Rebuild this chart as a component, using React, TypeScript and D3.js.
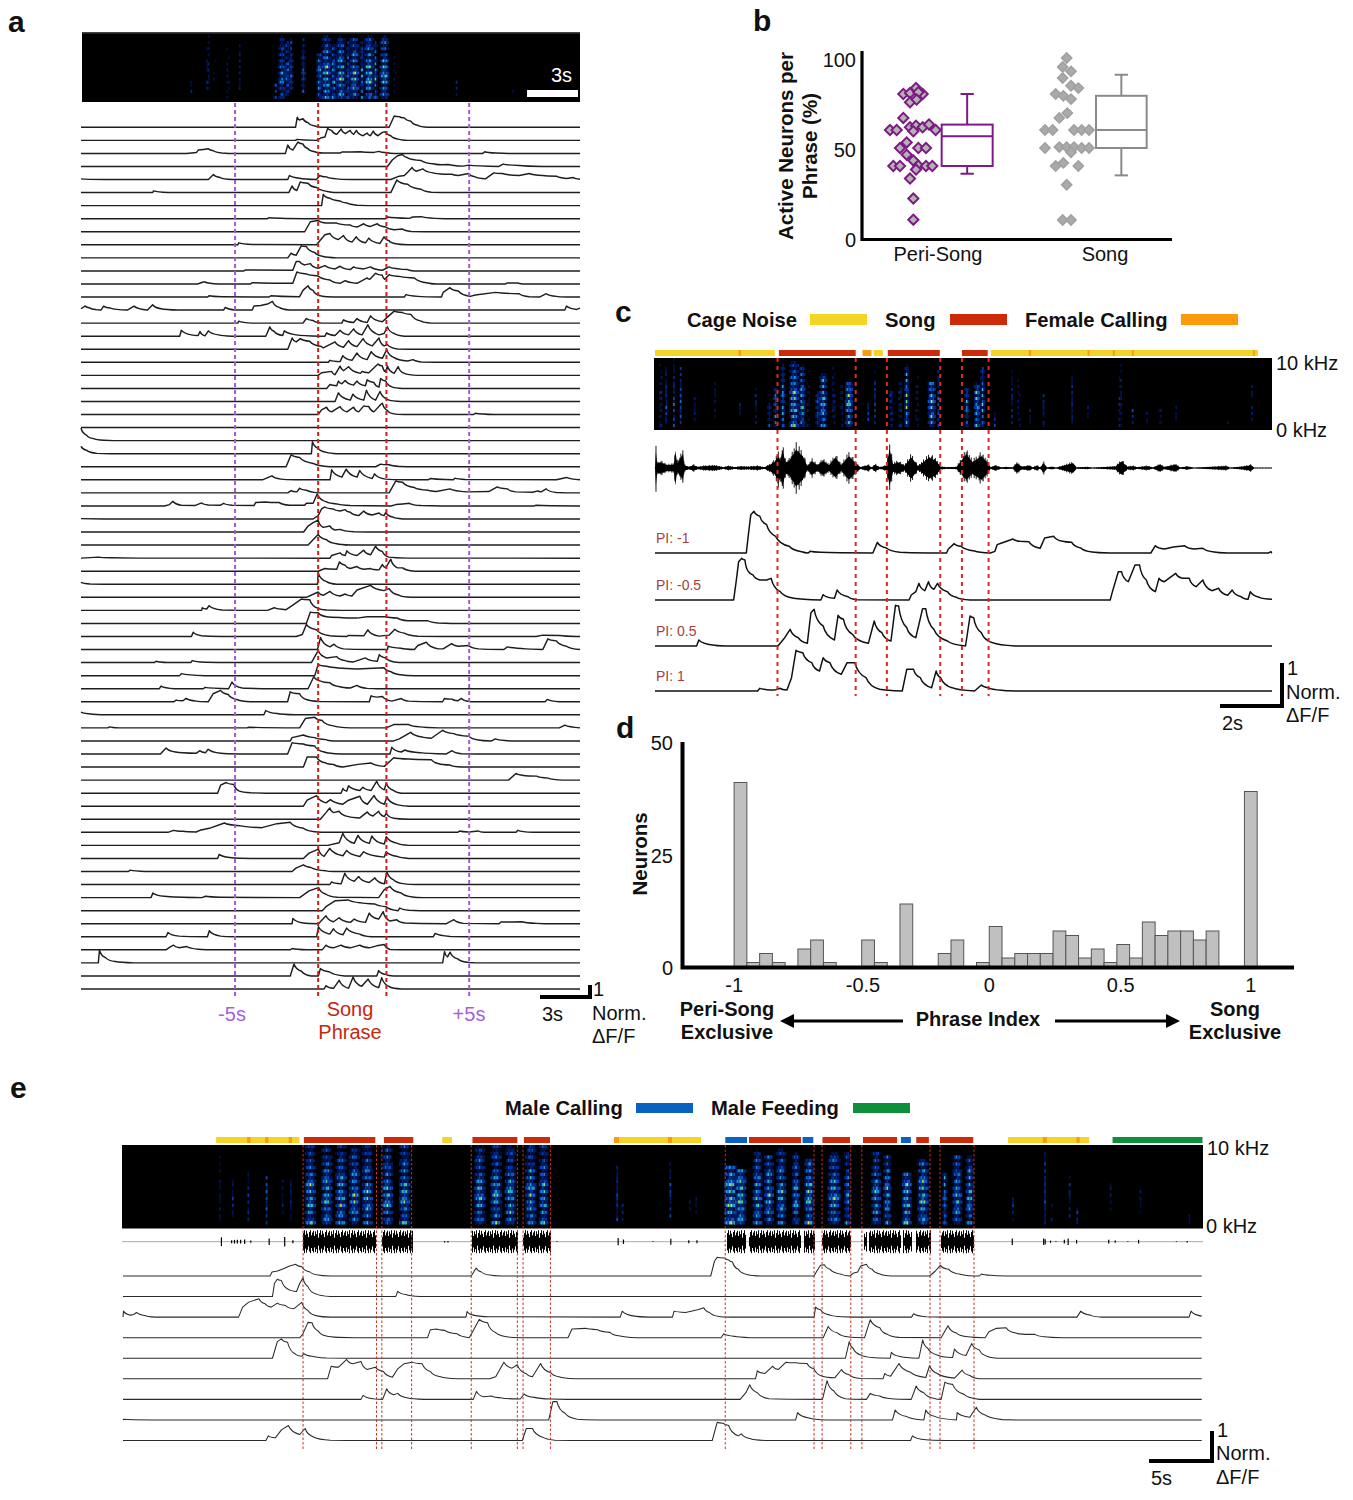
import React from "react";
import * as d3 from "d3";

// ---------- panel a: traces, flat [time, amplitude, time, amplitude ...] ----------
const tracesUpper: number[][] = [
[668,0,673,30,680,22,690,26,705,14,725,4,745,0,945,0,960,34,975,32,990,28,1010,18,1030,6,1060,0],
[668,0,672,3,730,0,745,8,755,10,763,36,775,30,790,18,803,34,815,20,830,30,840,18,848,30,868,14,880,22,890,14,898,28,912,14,925,24,935,26,950,14,975,3,1000,0],
[345,0,375,3,380,10,395,12,410,14,425,8,450,1,470,0,638,0,645,25,660,10,675,34,690,28,705,14,725,5,750,1,800,1,805,4,830,4,860,5,900,3,915,6,940,2,960,0,1222,0,1228,5,1260,1,1300,0],
[940,0,955,20,970,32,985,36,1000,26,1040,18,1075,8,1100,5,1120,6,1165,1,1180,4,1270,0,1282,7,1330,3,1400,0],
[33,2,100,0,410,0,425,15,445,6,480,0,645,0,650,12,680,4,730,0,740,12,760,8,790,2,830,0,950,0,975,10,990,12,1000,22,1013,36,1025,25,1045,32,1075,20,1110,16,1130,16,1150,12,1180,18,1200,8,1230,2,1255,20,1280,18,1330,12,1360,18,1400,12,1440,10,1470,3,1490,6,1510,1],
[245,0,248,5,290,0,648,0,658,20,672,6,682,32,705,28,730,15,770,2,800,0,950,0,968,38,1000,25,1040,10,1070,1,1100,0],
[745,0,750,34,770,22,800,14,820,8,850,1,880,0],
[585,0,590,3,720,0,935,0,940,5,1005,1,1015,5,1040,6,1080,1,1110,0],
[695,0,712,30,735,34,760,26,790,26,830,20,850,14,870,24,890,16,910,24,935,14,960,6,985,8,1010,1,1050,0],
[497,0,500,6,540,1,730,0,745,18,755,30,770,34,795,16,810,28,835,8,848,24,875,6,885,20,918,4,930,24,945,12,965,3,1000,0],
[645,0,655,14,670,8,685,36,700,34,725,16,750,4,790,0],
[515,0,520,3,660,2,670,28,680,28,695,18,712,22,735,8,755,16,785,6,800,14,830,4,840,12,870,6,890,12,925,2,945,12,975,6,1000,4,1020,0],
[378,0,395,6,400,6,440,0,535,0,540,4,660,2,672,36,700,30,735,24,770,12,800,2,815,10,850,2,880,18,888,14,905,32,925,26,932,14,945,28,980,22,1020,18,1060,3,1085,0,1290,0,1295,3,1325,3,1340,0],
[408,0,412,4,450,1,590,0,595,4,680,1,690,20,705,34,720,20,740,4,760,1,780,0,990,0,995,7,1030,2,1100,0,1105,14,1125,28,1150,18,1185,2,1200,6,1260,14,1330,10,1360,1,1390,0,1410,10,1440,2,1470,0],
[33,4,45,12,60,6,75,2,92,0,100,12,120,6,170,0,190,12,230,0,245,16,270,4,320,0,455,0,460,8,490,0,540,0,545,12,565,14,585,18,600,26,620,8,650,0,1465,0,1470,12,1500,2,1510,6],
[497,0,500,6,540,0,690,0,700,14,720,8,745,0,805,0,810,10,840,2,850,14,880,2,890,22,925,4,940,18,960,36,985,32,1010,26,1040,6,1070,0],
[325,0,330,18,360,4,380,2,385,14,400,1,410,16,440,4,480,0,580,0,592,28,605,14,630,2,635,16,670,4,740,0,755,0,760,10,785,2,800,18,825,4,840,22,865,4,882,34,915,4,930,8,940,28,960,8,990,0],
[645,0,658,34,670,22,682,32,710,24,745,8,750,4,785,22,810,6,825,26,850,8,868,32,895,10,915,34,930,10,940,14,970,1,1000,0],
[765,0,770,6,800,2,808,20,835,6,850,28,880,8,892,32,925,12,938,38,960,14,1000,4,1016,8,1040,1,1080,0],
[735,0,745,8,775,12,785,2,800,28,810,14,825,26,860,6,865,12,885,8,912,34,925,28,935,10,940,28,960,6,972,26,990,6,1030,0],
[760,0,770,12,790,8,795,22,805,14,815,24,840,10,850,22,875,8,880,26,900,18,915,4,920,30,935,22,955,4,985,0],
[785,0,795,26,830,4,838,22,870,4,878,34,905,4,918,30,945,4,980,0],
[735,0,745,14,760,22,775,8,790,18,800,24,820,8,840,22,855,8,870,26,885,24,900,8,920,30,925,34,940,12,960,2,990,0,1195,0,1200,4,1260,0],
[33,0,1510,0],
[33,38,50,16,70,6,100,1,130,0],
[33,22,50,10,80,1,120,0,715,0,718,36,735,16,760,4,790,0],
[640,0,655,36,680,28,720,10,770,0,905,0,920,8,945,6,975,1,1000,0],
[570,0,598,12,625,2,670,0,770,0,775,30,805,8,818,32,850,8,858,28,895,4,902,18,935,2,1000,0,1060,0,1068,4,1110,1,1135,0,1140,5,1170,1,1440,0,1470,7,1510,0],
[645,0,655,7,672,3,680,14,700,8,735,0,945,0,965,36,985,32,1020,16,1060,8,1085,4,1125,12,1175,3,1240,4,1265,18,1295,12,1320,3,1370,2,1385,6,1395,3,1410,12,1440,1,1470,0],
[280,0,295,4,305,14,330,2,370,1,390,9,410,3,445,2,455,8,480,2,545,1,550,10,580,12,620,10,650,2,695,2,700,8,720,8,732,36,760,12,790,6,830,1,950,0,965,4,985,6,1005,8,1040,1,1100,0,1375,0,1380,2,1500,0],
[33,1,100,0,720,0,735,10,745,30,755,36,780,30,800,24,815,28,830,20,855,10,870,24,895,12,915,18,930,10,935,20,955,6,985,0],
[692,0,705,18,720,28,735,36,750,14,770,18,785,6,800,8,840,1,880,0],
[705,0,720,16,735,32,760,16,790,4,830,0],
[33,0,85,3,120,1,200,0,770,0,775,8,800,16,815,8,820,22,850,8,870,24,890,10,905,36,925,20,945,3,1000,0],
[735,0,755,8,790,6,798,28,815,18,830,8,850,14,870,6,890,8,915,4,925,20,935,10,950,36,970,10,985,10,1020,0],
[33,6,60,1,100,0,733,0,735,34,760,8,790,0],
[700,0,735,16,750,6,770,18,800,4,815,10,835,4,850,22,890,36,930,20,945,26,975,6,1010,0],
[390,0,392,8,405,4,412,14,450,1,500,0,585,0,605,8,640,2,660,16,685,34,710,32,735,6,760,1,800,0],
[700,0,712,34,735,32,760,20,800,18,850,16,880,20,935,20,970,16,1000,8,1060,8,1090,1,1130,0],
[360,0,365,13,390,2,450,0,670,0,688,6,700,36,730,20,770,2,820,0,825,3,870,2,882,20,915,1,945,4,962,22,990,10,1030,1,1100,0,1380,0,1400,4,1450,3,1500,0],
[733,0,742,36,770,8,782,16,810,2,900,0,940,0,942,10,980,4,1020,0,1030,12,1055,22,1090,2,1105,2,1130,18,1150,10,1180,12,1210,2,1285,0,1295,8,1400,0,1415,32,1440,26,1470,10,1510,0],
[250,0,255,4,290,0,358,0,362,6,400,1,440,0,715,0,735,36,760,14,790,18,815,6,840,2,875,14,910,4,916,24,935,14,960,2,1000,0],
[325,0,330,6,400,0,725,0,735,34,760,28,850,20,930,24,950,12,985,2,1020,0],
[265,0,270,8,310,0,395,0,400,4,470,0,480,20,510,2,600,0,705,0,722,36,745,22,770,18,800,6,830,2,850,10,880,1,910,0],
];
const tracesLower: number[][] = [
[275,0,282,5,300,3,308,10,335,2,367,0,380,24,400,34,420,22,445,6,480,0,578,0,585,30,610,24,630,6,660,1,795,0,800,18,815,14,830,16,855,2,880,10,900,2,990,0,995,10,1015,8,1030,3,1040,10,1065,0,1262,0,1268,7,1300,0],
[29,8,60,2,120,0,515,0,520,13,550,4,600,0],
[100,0,105,3,130,0,470,0,475,2,610,0,625,28,650,32,670,22,700,6,745,0,840,0,860,10,900,10,930,3,980,0,1300,0,1315,8,1355,0],
[585,0,590,10,620,18,650,10,680,4,700,0,860,0,875,6,905,26,935,12,960,8,990,32,1020,22,1060,14,1085,3,1120,0,1130,6,1170,0],
[240,0,255,18,280,6,335,2,345,10,360,4,367,14,400,2,450,0,578,0,590,34,620,30,650,24,675,6,720,0,850,0,855,20,880,6,890,12,930,4,1000,0,1015,10,1040,1,1080,0],
[620,0,630,30,655,30,680,12,700,8,725,0,765,8,800,12,835,2,860,28,900,24,960,22,980,10,1010,6,1040,0],
[1165,0,1185,20,1205,14,1240,12,1270,6,1310,0],
[392,0,400,24,415,32,435,26,450,6,480,1,520,0,720,0,725,14,735,6,740,22,770,8,778,18,800,8,815,36,835,10,840,30,860,8,880,0],
[620,0,630,18,655,32,680,10,692,20,725,6,740,18,770,30,790,6,808,32,835,6,842,28,865,6,900,0],
[665,0,680,20,690,34,700,20,715,24,740,8,770,4,790,22,805,10,820,24,835,8,840,18,860,3,900,0],
[260,0,275,6,300,3,335,1,345,6,370,12,410,28,450,20,510,14,550,26,585,30,620,12,650,2,700,0,1030,0,1035,4,1060,1,1085,4,1100,0,1185,0,1190,6,1230,0],
[685,0,715,8,725,36,755,6,765,30,795,6,802,28,835,4,840,26,870,6,900,0],
[392,0,396,12,430,2,480,0,620,0,635,16,660,28,675,6,690,30,725,8,735,24,770,6,780,20,835,4,840,20,870,6,900,0],
[155,0,160,4,200,0,590,0,600,10,620,20,640,12,680,2,700,0],
[690,0,695,8,720,2,730,34,755,10,767,24,795,6,810,20,835,2,842,38,860,14,890,2,920,0],
[215,0,220,14,250,4,350,0,360,4,400,1,610,0,635,20,660,30,680,10,710,1,820,0,835,24,850,34,880,14,910,2,940,0],
[670,0,680,12,705,30,740,32,770,24,810,20,840,12,872,0,876,8,900,1,930,0],
[590,0,592,16,620,2,660,0,680,24,700,6,715,18,745,4,755,14,785,4,795,32,820,14,832,36,850,8,868,12,890,2,1000,0,1020,12,1045,1,1140,0,1145,5,1175,5,1200,6,1240,1,1260,0],
[255,0,260,13,290,2,365,0,370,18,400,2,440,0,655,0,660,30,690,8,700,24,725,6,735,26,770,8,800,0,965,0,970,10,1010,1,1060,0],
[255,0,265,8,275,14,290,6,310,10,340,2,400,0,585,0,590,4,630,0,670,0,680,14,700,6,720,14,745,6,770,14,795,6,815,12,835,16,850,1,880,0],
[75,0,78,38,95,15,120,4,170,0,990,0,995,34,1003,18,1010,32,1030,12,1060,1,1080,0],
[585,0,595,36,615,14,640,0,660,0,665,22,690,12,730,0,815,0,820,16,840,4,860,0],
[675,0,680,10,700,2,715,26,740,2,752,36,775,8,792,30,820,4,828,34,850,6,880,0],
];
const specABursts = [[360,2,.68,.9,.2],[408,3,.02,.8,.45],[428,3,.25,.8,.18],[468,3,.15,.95,.28],[503,2,.15,.8,.15],[608,4,.7,.95,.32],[628,8,.02,.95,.52],[643,6,.1,.9,.48],[655,5,.05,.8,.42],[690,4,.05,.9,.42],[740,7,.3,.95,.62],[760,10,.02,.95,.85],[780,6,.15,.95,.58],[803,10,.03,.95,.82],[822,4,.1,.95,.48],[843,10,.05,.95,.78],[865,5,.1,.95,.52],[885,9,.02,.95,.88],[905,5,.1,.95,.58],[930,9,.02,.95,.78],[962,3,.3,.85,.25],[1145,2,.65,.9,.22],[1310,1,.8,.9,.12]];
const violetLines = [489, 1182];
const redLinesA = [735, 937];

// ---------- panel b ----------
const periPoints = [[430,80],[450,80.5],[468,83.3],[488,80],[475,81],[450,75.4],[470,76.9],[430,66.7],[390,60],[410,60],[450,61.5],[468,62.4],[488,61.5],[507,63.1],[527,60],[460,59.3],[440,53.1],[420,50],[475,50],[498,50],[440,46.3],[460,43.1],[400,40],[420,40],[475,40.2],[498,40],[517,40],[468,38],[450,33],[460,21.9],[460,10.2]];
const songPoints = [[920,100],[908,95],[933,92.6],[908,88.9],[933,84.6],[955,83.3],[887,80],[910,79],[933,77.2],[922,69.4],[898,66.7],[855,60],[878,60],[942,60],[965,60],[987,60],[855,50],[898,50.5],[920,50.5],[942,50.5],[965,50],[987,50],[933,47.6],[910,41.7],[887,40],[955,40],[920,29.6],[908,10],[933,10]];
const boxPeri = { left: 545, right: 698, q1: 40, med: 56.5, q3: 63, lo: 35.7, hi: 80 };
const boxSong = { left: 1008, right: 1160, q1: 50, med: 60, q3: 79, lo: 34.8, hi: 90.7 };

// ---------- panel c ----------
const cBarsYellow = [[33,298],[517,537],[776,1367]];
const cBarsRed = [[307,477],[548,663],[712,769]];
const cBarsOrange = [[492,512],[218,223],[860,865],[990,994],[1046,1050],[1088,1092],[1356,1360]];
const cRedLines = [304,477,546,664,712,771];
const specCBursts = [[45,3,.05,.95,.42],[58,2,.1,.9,.28],[75,2,0,.95,.28],[90,2,0,.9,.32],[120,1,.5,.9,.15],[165,1,.3,.9,.12],[220,1,.6,.9,.15],[255,1,.4,.9,.15],[285,4,.6,.95,.28],[300,5,.4,.95,.48],[315,4,.05,.95,.58],[340,9,.02,.95,.82],[358,6,.05,.95,.72],[372,3,.05,.95,.32],[392,4,.45,.95,.42],[405,8,.2,.95,.72],[428,3,.05,.9,.42],[445,3,.3,.95,.32],[462,8,.3,.95,.78],[505,2,.6,.9,.32],[520,2,.1,.9,.22],[555,3,.45,.95,.52],[575,3,.3,.95,.48],[590,5,.05,.95,.78],[612,3,.2,.95,.32],[645,8,.3,.95,.78],[660,2,.05,.95,.28],[722,4,.4,.95,.52],[745,6,.3,.95,.78],[758,5,.05,.95,.58],[785,2,.75,.95,.22],[822,1,.1,.9,.18],[838,3,.2,.95,.28],[862,1,.7,.9,.18],[893,2,.5,.95,.22],[955,1,.2,.9,.22],[990,1,.6,.9,.12],[1062,3,.05,.95,.48],[1090,2,.7,.9,.22],[1120,1,.75,.9,.15],[1150,3,.65,.95,.32],[1185,1,.65,.9,.18],[1300,1,.8,.9,.1],[1353,1,.35,.9,.12]];
const waveC = [[33,1,1],[35,70,75],[38,18,18],[44,25,25],[50,20,20],[60,12,12],[75,15,15],[78,75,75],[82,20,15],[95,60,50],[98,12,12],[108,4,4],[118,12,12],[128,4,4],[140,8,8],[165,10,10],[185,3,3],[195,8,8],[210,3,3],[220,6,6],[240,5,5],[260,8,8],[275,3,3],[288,14,14],[300,30,30],[305,60,70],[310,30,40],[315,75,75],[322,25,25],[330,30,30],[345,78,78],[360,50,50],[370,8,8],[380,30,30],[392,12,12],[405,30,30],[418,12,12],[432,45,40],[445,12,12],[462,50,50],[475,25,25],[487,3,3],[505,12,12],[512,2,2],[520,14,14],[530,3,3],[545,10,10],[552,80,75],[560,15,15],[570,25,25],[585,10,10],[600,45,45],[615,8,8],[640,45,45],[655,30,30],[665,5,5],[680,3,3],[700,4,4],[722,60,50],[735,25,25],[755,50,50],[768,25,25],[775,2,2],[785,10,10],[800,2,2],[808,4,4],[825,2,2],[833,20,20],[845,5,5],[862,10,10],[868,2,2],[878,10,10],[885,2,2],[893,20,20],[900,2,2],[912,5,5],[920,1,1],[958,20,20],[965,2,2],[990,4,4],[1000,1,1],[1052,6,6],[1065,28,28],[1078,5,5],[1090,8,8],[1100,3,3],[1122,8,8],[1135,2,2],[1150,14,14],[1160,4,4],[1185,14,14],[1195,2,2],[1210,6,6],[1225,1,1],[1298,8,8],[1305,1,1],[1335,6,6],[1352,12,12],[1358,1,1],[1398,1,1]];
const cTraces: number[][] = [
[235,0,240,60,245,115,252,125,265,110,280,85,300,50,330,20,360,3,372,0,376,5,400,2,515,0,525,32,545,15,575,2,640,0,678,0,682,12,695,28,710,20,740,6,775,0,785,5,790,25,800,30,825,42,840,35,860,34,885,14,895,45,915,50,935,35,955,32,975,15,1000,3,1040,0,1130,0,1140,22,1160,12,1180,18,1205,22,1225,12,1245,14,1270,3,1300,0,1390,0,1396,4],
[207,0,213,60,218,115,225,125,232,120,240,85,250,75,265,60,280,60,290,65,310,25,340,5,400,0,405,16,430,5,436,30,460,10,480,1,595,0,600,15,610,25,617,50,630,28,638,55,650,32,658,50,680,25,700,8,730,0,1040,0,1045,25,1058,85,1065,85,1080,55,1095,105,1105,105,1120,60,1140,25,1148,65,1160,55,1185,80,1200,65,1215,65,1230,40,1245,60,1265,28,1280,35,1300,14,1310,30,1330,10,1345,2,1350,25,1370,8,1398,2],
[125,0,130,18,160,3,190,0,305,0,320,25,332,50,350,25,370,8,378,100,385,110,405,60,430,18,438,92,450,80,470,35,505,8,518,75,535,40,555,15,565,122,572,120,590,55,610,25,625,112,632,112,650,50,680,15,720,0,730,90,738,85,755,40,780,10,830,0],
[260,0,265,8,295,3,300,4,310,8,325,3,335,40,345,122,360,115,380,85,397,60,405,100,420,85,445,50,458,85,475,85,500,40,530,5,580,0,590,65,605,65,620,40,645,10,655,60,665,40,690,10,740,0,755,18,770,10,800,2,830,0],
];
const cLabels = ["PI: -1","PI: -0.5","PI: 0.5","PI: 1"];

// ---------- panel d ----------
const binCenters = [-1,-.95,-.9,-.85,-.75,-.7,-.65,-.5,-.45,-.35,-.2,-.15,-.05,0,.05,.1,.15,.2,.25,.3,.35,.4,.45,.5,.55,.6,.65,.7,.75,.8,.85,1];
const binCounts = [41,1,3,1,4,6,1,6,1,14,3,6,1,9,2,3,3,3,8,7,2,4,1,5,2,10,7,8,8,6,8,39];
const dTickPos = [-1.025,-.52,-.025,.49,1];
const dTickText = ["-1","-0.5","0","0.5","1"];

// ---------- panel e ----------
const eBarsL: [number,number,string][] = [[260,464,"y"],[336,344,"o"],[380,388,"o"],[438,446,"o"],[475,650,"r"],[671,743,"r"],[814,838,"y"],[888,998,"r"],[1014,1078,"r"],[1235,1448,"y"],[1235,1247,"o"],[1367,1377,"o"],[1508,1560,"b"]];
const eBarsR: [number,number,string][] = [[67,123,"b"],[128,264,"r"],[268,296,"b"],[320,392,"r"],[426,515,"r"],[525,551,"b"],[565,598,"r"],[627,714,"r"],[805,1017,"y"],[896,906,"o"],[984,992,"o"],[1078,1313,"g"]];
const eLinesL = [473,653,666,739,885,998,1012,1079];
const eLinesR = [66,298,319,394,423,601,627,716];
const s = .72;
const specELeft = [[490,10,0,.95,s],[530,10,0,.95,s],[565,10,0,.95,s],[598,10,0,.95,s],[630,10,0,.95,s],[680,11,0,.95,s],[722,11,0,.95,s],[905,10,0,.95,s],[945,10,0,.95,s],[980,10,0,.95,s],[1030,10,0,.95,s],[1062,9,0,.95,s],[268,1,.05,.9,.14],[300,1,.4,.85,.18],[338,1,.3,.9,.18],[384,2,.35,.95,.32],[422,1,.35,.9,.12],[442,1,.4,.9,.18],[1243,2,.2,.95,.32],[1372,1,.2,.9,.28],[1255,1,.7,.9,.18],[1420,1,.6,.9,.12],[1435,1,.6,.9,.12]];
const specERight = [[80,12,.25,.95,.92],[105,10,.28,.95,.85],[150,9,.03,.95,.72],[180,9,.1,.95,.75],[212,9,.03,.95,.75],[250,7,.05,.95,.7],[285,9,.15,.95,.85],[350,12,.05,.95,.72],[385,6,.05,.95,.6],[460,9,.05,.95,.72],[490,8,.1,.95,.72],[540,9,.3,.95,.85],[583,11,.15,.95,.8],[640,5,.3,.95,.6],[672,9,.1,.95,.72],[705,8,.1,.95,.72],[817,1,.6,.9,.22],[902,2,.05,.95,.32],[918,1,.7,.95,.14],[965,1,.35,.9,.18],[985,1,.75,.95,.28],[1072,1,.4,.9,.1],[1150,1,.5,.9,.12],[1278,1,.8,.95,.14]];
const waveEBlocksL = [[473,650],[667,740],[888,998],[1013,1077]];
const waveEBlocksR = [[70,118],[128,262],[272,298],[320,392],[428,434],[442,522],[530,552],[565,600],[630,714]];
const waveESpikesL = [[273,12],[298,4],[305,5],[312,5],[320,5],[330,6],[345,3],[390,9],[428,13],[448,4],[820,2],[828,2],[1095,1],[1245,10],[1258,6],[1330,1],[1374,8],[1418,4],[1438,4]];
const waveESpikesR = [[816,9],[898,9],[902,7],[916,3],[930,1],[952,5],[962,9],[984,5],[1068,5],[1085,3],[1118,1],[1146,5],[1245,1],[1273,2]];
const waveEnvelope = [.75,1,.6,.95,.7,.4,.85,1,.55,.8,.95,.5,.9,.65,1,.35];
const eTraces: [number[],number[]][] = [
[[392,0,397,12,410,15,425,22,440,30,455,35,470,28,490,12,510,3,540,0,885,0,890,10,897,24,910,12,930,3,960,0,1400,0],[28,0,38,45,45,56,65,54,75,48,85,42,100,20,125,4,160,0,298,0,305,14,315,32,325,34,340,20,370,5,392,0,400,8,412,12,420,30,435,35,450,20,470,6,500,0,600,0,615,15,628,32,650,20,680,5,715,0,730,0,735,6,760,2,800,0,1311,0]],
[[398,0,403,40,410,52,420,48,440,20,457,15,465,40,473,56,485,30,505,8,540,0,700,0,705,16,725,6,760,0],[1311,0]],
[[33,18,50,6,58,8,65,14,85,5,110,0,315,0,325,30,340,45,365,55,380,40,395,30,410,42,430,35,450,25,470,44,485,20,510,3,540,0,872,0,875,17,890,6,930,1,1250,0,1255,18,1285,3,1320,0,1378,0,1382,18,1410,14,1440,22],[10,28,25,14,50,2,80,0,298,0,302,30,315,22,340,6,370,1,400,0,553,0,558,10,590,1,640,0,985,0,995,18,1020,6,1050,0,1278,0,1283,18,1311,3]],
[[465,0,472,10,485,46,495,45,510,20,530,5,560,1,600,0,778,0,785,24,800,26,820,22,850,12,880,0,885,10,905,55,925,45,945,15,975,2,1010,0,1122,0,1132,26,1165,28,1195,24,1225,16,1250,5,1290,0],[55,0,62,12,90,4,130,0,322,0,335,34,360,14,390,2,430,0,445,54,470,30,490,10,520,1,630,0,648,36,670,14,700,3,745,0,755,18,775,28,800,30,825,14,850,10,875,10,900,3,950,0,1311,0]],
[[398,0,410,50,420,58,435,48,455,12,470,6,475,14,495,6,530,1,580,0],[380,0,390,50,400,30,420,10,450,2,497,0,500,18,520,6,572,0,582,55,595,30,620,10,660,2,665,28,695,8,710,44,730,25,750,6,780,0,1311,0]],
[[533,0,542,38,560,35,580,58,595,45,615,52,630,28,650,35,670,22,692,5,705,30,720,45,740,50,765,45,785,22,810,6,850,0,930,0,945,6,965,50,985,32,998,42,1020,15,1035,6,1055,46,1080,18,1100,6,1140,0],[145,0,150,24,170,16,190,38,205,28,225,50,250,48,280,46,298,30,320,8,352,3,370,28,390,12,420,1,478,0,483,16,498,8,520,46,550,20,590,4,600,40,620,16,665,2,685,26,705,10,730,0,1311,0]],
[[615,0,620,12,650,1,668,0,678,32,695,14,705,18,730,4,770,0,890,0,898,24,915,8,935,10,960,4,1005,1,1015,16,1040,6,1080,1,1120,0],[105,0,120,20,130,44,150,20,180,2,320,0,332,56,350,25,380,2,435,0,445,18,470,10,500,2,552,0,565,40,585,20,615,2,630,0,640,52,660,45,690,15,730,0,1311,0]],
[[33,2,100,0,1075,0,1085,55,1095,55,1115,20,1145,2,1200,0],[250,0,255,22,285,6,330,0,503,0,510,30,540,10,585,0,590,30,615,10,670,0,672,22,705,8,722,38,745,15,790,1,830,0,1311,0]],
[[382,0,388,14,405,8,420,32,437,45,465,18,478,36,500,10,540,1,580,0,1010,0,1020,36,1035,36,1060,10,1090,1,1130,0,1400,0],[32,0,45,55,60,52,75,45,100,14,108,20,130,6,170,0,550,0,555,14,590,2,640,0,1311,0]],
];

// ---------- shared style tables ----------
const rowPattern = [1,.3,.85,.18,.72,.35,1,.22,.9,.3,.62];
const colPattern = [1,.55,.85,.32,.68,1,.45];
const freqProfile = [.4,.5,.55,.65,.75,.95,1,.95,.75,.65,1];
const jet = d3.scaleLinear<string>().domain([0,.1,.32,.55,.78,1]).range(["#000008","#001558","#0a46c8","#10a8dc","#50d8a8","#e8e040"]).clamp(true);
const FONT = "'Liberation Sans', Arial, sans-serif";
const INK = "#111";
const C = { y:"#f5d327", r:"#cc2a08", o:"#fb9a0c", b:"#0a62c0", g:"#0f8f3a" } as Record<string,string>;

function pairs(a: number[]) { const o: [number,number][] = []; for (let i = 0; i < a.length; i += 2) o.push([a[i], a[i+1]]); return o; }

// d3 curve: rises are straight, falls bow towards the baseline like a calcium decay
const curveDecay = (ctx: any) => {
  let px = 0, py = 0, first = true;
  return {
    areaStart() {}, areaEnd() {},
    lineStart() { first = true; },
    lineEnd() {},
    point(x: number, y: number) {
      if (first) { ctx.moveTo(x, y); first = false; }
      else if (y > py + .4) ctx.quadraticCurveTo(px + (x-px)*.25, py + (y-py)*.75, x, y);
      else ctx.lineTo(x, y);
      px = x; py = y;
    },
  };
};

function Spec({ id, x, y, w, h, bursts, sx, rowH, wMul = 1, gain = 1.5, black = true }: any) {
  const fy = d3.scaleLinear().domain([0,1]).range([y, y+h]);
  const rows = Math.floor(h/rowH);
  const cells: React.ReactNode[] = [];
  bursts.forEach((b: number[], bi: number) => {
    const [bx, bw, top, bot, amp] = b;
    const width = bw*wMul;
    const cols = Math.max(1, Math.round(width/1.6));
    for (let c = 0; c < cols; c++) {
      const edge = cols > 1 ? 1 - .7*Math.abs(2*c/(cols-1)-1) : 1;
      for (let r = 0; r < rows; r++) {
        const f = r/rows;
        if (f < top || f > bot) continue;
        const v = gain*amp*edge*rowPattern[(r+bi)%rowPattern.length]*colPattern[(c+r+bi*3)%colPattern.length]*freqProfile[Math.min(10,Math.floor(f*11))];
        if (v < .05) continue;
        cells.push(<rect key={bi+"-"+c+"-"+r} x={sx(bx)-width/2+c*1.6} y={fy(f)} width={1.8} height={rowH} fill={jet(v)}/>);
      }
    }
  });
  return <g>
    <defs>
      <clipPath id={id+"c"}><rect x={x} y={y} width={w} height={h}/></clipPath>
      <filter id={id+"f"} x="-5%" y="-5%" width="110%" height="110%"><feGaussianBlur stdDeviation=".5"/></filter>
    </defs>
    {black ? <rect x={x} y={y} width={w} height={h} fill="#000"/> : null}
    <g clipPath={`url(#${id}c)`}><g filter={`url(#${id}f)`}>{cells}</g></g>
  </g>;
}

function Txt({ x, y, size = 20, bold, fill = INK, anchor = "start", rot, children }: any) {
  return <text x={x} y={y} fontSize={size} fontWeight={bold ? 700 : 400} fill={fill} textAnchor={anchor} fontFamily={FONT}
    transform={rot ? `rotate(${rot} ${x} ${y})` : undefined}>{children}</text>;
}

export default function App() {
  // panel a
  const xA = d3.scaleLinear().domain([33,1510]).range([81,580]);
  const xB = d3.scaleLinear().domain([29,1355]).range([81,580]);
  const baseA = d3.scaleLinear().domain([0,66]).range([127.3,989]);
  const amp = d3.scaleLinear().domain([0,3]).range([0,1]);
  const lineA = (pts: [number,number][], sx: any, base: number) =>
    d3.line<[number,number]>().x(d => sx(d[0])).y(d => base - amp(d[1])).curve(curveDecay as any)(pts) as string;
  const full = (t: number[], lo: number, hi: number) => {
    const p = pairs(t);
    if (p[0][0] > lo) p.unshift([lo, 0]);
    if (p[p.length-1][0] < hi) p.push([hi, 0]);
    return p;
  };

  // panel b
  const xb = d3.scaleLinear().domain([0,1290]).range([760,1190]);
  const yb = d3.scaleLinear().domain([0,100]).range([238,58]);
  const diamond = d3.symbol().type(d3.symbolSquare).size(52)() as string;
  const box = (b: any, col: string) => {
    const mid = (b.left+b.right)/2, cap = 20;
    return <g stroke={col} strokeWidth={2} fill="none">
      <rect x={xb(b.left)} y={yb(b.q3)} width={xb(b.right)-xb(b.left)} height={yb(b.q1)-yb(b.q3)} fill="#fff"/>
      <line x1={xb(b.left)} x2={xb(b.right)} y1={yb(b.med)} y2={yb(b.med)}/>
      <line x1={xb(mid)} x2={xb(mid)} y1={yb(b.q3)} y2={yb(b.hi)}/>
      <line x1={xb(mid)} x2={xb(mid)} y1={yb(b.q1)} y2={yb(b.lo)}/>
      <line x1={xb(mid-cap)} x2={xb(mid+cap)} y1={yb(b.hi)} y2={yb(b.hi)}/>
      <line x1={xb(mid-cap)} x2={xb(mid+cap)} y1={yb(b.lo)} y2={yb(b.lo)}/>
    </g>;
  };

  // panel c
  const xc = d3.scaleLinear().domain([33,1398]).range([655,1272]);
  const baseC = [553,600,646,691];
  const waveY = 468;
  const waveArea = d3.area<number[]>().x(d => xc(d[0])).y0(d => waveY - amp(d[1])*.7).y1(d => waveY + amp(d[2])*.7).curve(d3.curveLinear);
  const waveCLines: React.ReactNode[] = [];
  const waveKeys = waveC.map(d => d[0]);
  for (let u = 33, i = 0; u < 1398; u += 2.2, i++) {
    const j = Math.min(waveC.length-2, Math.max(0, d3.bisectRight(waveKeys, u)-1));
    const t = (u-waveC[j][0])/(waveC[j+1][0]-waveC[j][0]);
    const up = waveC[j][1]+(waveC[j+1][1]-waveC[j][1])*t;
    const dn = waveC[j][2]+(waveC[j+1][2]-waveC[j][2])*t;
    const e = waveEnvelope[i%waveEnvelope.length];
    waveCLines.push(<line key={"wc"+i} x1={xc(u)} x2={xc(u)} y1={waveY-amp(up)*e} y2={waveY+amp(dn)*e} stroke="#000" strokeWidth={.9}/>);
  }

  // panel d
  const xd = d3.scaleLinear().domain([-1,1]).range([740.5,1250.8]);
  const yd = d3.scaleLinear().domain([0,50]).range([967,742]);
  const binW = xd(.05)-xd(0);

  // panel e
  const xL = d3.scaleLinear().domain([0,640*2.45]).range([110,750]);
  const xR = d3.scaleLinear().domain([0,600*2.613]).range([700,1300]);
  const baseE = d3.scaleLinear().domain([0,8]).range([1276,1440.5]);
  const yE = (b: number, v: number) => b - amp(v);
  const eLine = d3.line<[number,number]>().x(d => d[0]).y(d => d[1]).curve(curveDecay as any);
  const waveEY = 1241.7;
  const blockLines = (blocks: number[][], sx: any, key: string) => blocks.flatMap((bk, bi) => {
    const out: React.ReactNode[] = [];
    const x0 = Math.round(sx(bk[0])), x1 = Math.round(sx(bk[1]));
    out.push(<rect key={key+bi+"core"} x={x0} y={waveEY-3.5} width={x1-x0} height={7} fill="#000"/>);
    let i = 0;
    for (let px = x0; px <= x1; px += 1) {
      const a = 11.5*waveEnvelope[(i+bi*5)%waveEnvelope.length];
      out.push(<line key={key+bi+"-"+i} x1={px+.5} x2={px+.5} y1={waveEY-a} y2={waveEY+a} stroke="#000" strokeWidth={1}/>);
      i++;
    }
    return out;
  });

  return (
    <svg width={1353} height={1500} viewBox="0 0 1353 1500" style={{ position:"absolute", left:0, top:0, background:"#fff", display:"block" }}>
      {/* panel letters */}
      <Txt x={8} y={32} size={30} bold>a</Txt>
      <Txt x={753} y={31} size={30} bold>b</Txt>
      <Txt x={615} y={322} size={30} bold>c</Txt>
      <Txt x={616} y={738} size={30} bold>d</Txt>
      <Txt x={10} y={1098} size={30} bold>e</Txt>

      {/* ---- a ---- */}
      <Spec id="sa" x={82} y={32} w={498} h={70} bursts={specABursts} sx={xA} rowH={3}/>
      <rect x={82} y={32} width={498} height={1.5} fill="#444"/>
      <Txt x={551} y={82} size={20} fill="#fff">3s</Txt>
      <rect x={527} y={90} width={51} height={7} fill="#fff"/>
      <g fill="none" stroke="#1e1e1e" strokeWidth={1.45} strokeLinejoin="round">
        {tracesUpper.map((t,i) => <path key={i} d={lineA(full(t,33,1510), xA, baseA(i))}/>)}
        {tracesLower.map((t,i) => <path key={i} d={lineA(full(t,29,1355), xB, baseA(i+44))}/>)}
      </g>
      {violetLines.map(v => <line key={v} x1={xA(v)} x2={xA(v)} y1={103} y2={996} stroke="#a558dc" strokeWidth={2} strokeDasharray="4 3"/>)}
      {redLinesA.map(v => <line key={v} x1={xA(v)} x2={xA(v)} y1={103} y2={997} stroke="#c8201c" strokeWidth={2} strokeDasharray="4 3"/>)}
      <Txt x={232} y={1021} fill="#a55fe0" anchor="middle">-5s</Txt>
      <Txt x={469} y={1021} fill="#a55fe0" anchor="middle">+5s</Txt>
      <Txt x={350} y={1016} fill="#c4280f" anchor="middle">Song</Txt>
      <Txt x={350} y={1039} fill="#c4280f" anchor="middle">Phrase</Txt>
      <path d="M540 997H590V985" fill="none" stroke="#000" strokeWidth={4}/>
      <Txt x={593} y={996}>1</Txt>
      <Txt x={542} y={1021}>3s</Txt>
      <Txt x={592} y={1020}>Norm.</Txt>
      <Txt x={592} y={1043}>ΔF/F</Txt>

      {/* ---- b ---- */}
      <path d="M862 51V239.5H1172" fill="none" stroke="#000" strokeWidth={3.2}/>
      {[[100,"100"],[50,"50"],[0,"0"]].map(([v,l]: any) => <Txt key={l} x={856} y={yb(v)+9} anchor="end">{l}</Txt>)}
      <Txt x={793} y={146} size={20.5} bold anchor="middle" rot={-90}>Active Neurons per</Txt>
      <Txt x={817} y={146} size={20.5} bold anchor="middle" rot={-90}>Phrase (%)</Txt>
      <Txt x={938} y={261} anchor="middle">Peri-Song</Txt>
      <Txt x={1105} y={261} anchor="middle">Song</Txt>
      {box(boxPeri, "#7d1a85")}
      {box(boxSong, "#8a8a8a")}
      {periPoints.map((p,i) => <path key={"p"+i} d={diamond} transform={`translate(${xb(p[0])},${yb(p[1])}) rotate(45)`} fill="#b3b3b3" stroke="#7d1a85" strokeWidth={2}/>)}
      {songPoints.map((p,i) => <path key={"s"+i} d={diamond} transform={`translate(${xb(p[0])},${yb(p[1])}) rotate(45)`} fill="#aaa" stroke="#a0a0a0" strokeWidth={1.5}/>)}

      {/* ---- c ---- */}
      <Txt x={687} y={327} size={20.2} bold>Cage Noise</Txt>
      <rect x={810} y={314} width={57} height={11} fill={C.y}/>
      <Txt x={885} y={327} size={20.2} bold>Song</Txt>
      <rect x={950} y={314} width={57} height={11} fill={C.r}/>
      <Txt x={1025} y={327} size={20.2} bold>Female Calling</Txt>
      <rect x={1181} y={314} width={57} height={11} fill={C.o}/>
      {cBarsYellow.map((b,i) => <rect key={"cy"+i} x={xc(b[0])} y={350} width={xc(b[1])-xc(b[0])} height={6} fill={C.y}/>)}
      {cBarsRed.map((b,i) => <rect key={"cr"+i} x={xc(b[0])} y={350} width={xc(b[1])-xc(b[0])} height={6} fill={C.r}/>)}
      {cBarsOrange.map((b,i) => <rect key={"co"+i} x={xc(b[0])} y={350} width={xc(b[1])-xc(b[0])} height={6} fill={C.o}/>)}
      <Spec id="sc" x={654} y={358} w={618} h={72} bursts={specCBursts} sx={xc} rowH={3}/>
      <Txt x={1276} y={370}>10 kHz</Txt>
      <Txt x={1276} y={437}>0 kHz</Txt>
      <line x1={655} x2={1272} y1={waveY} y2={waveY} stroke="#999" strokeWidth={1}/>
      <path d={waveArea(waveC as any) as string} fill="#000"/>
      {waveCLines}
      {cLabels.map((l,i) => <Txt key={l} x={656} y={baseC[i]-10} size={14} fill="#a5413a">{l}</Txt>)}
      <g fill="none" stroke="#111" strokeWidth={1.5} strokeLinejoin="round">
        {cTraces.map((t,i) => <path key={i} d={lineA(full(t,33,1398), xc, baseC[i])}/>)}
      </g>
      {cRedLines.map(v => <line key={v} x1={xc(v)} x2={xc(v)} y1={358} y2={696} stroke="#dd2a1c" strokeWidth={2} strokeDasharray="4 4"/>)}
      <path d="M1220 706H1282V663" fill="none" stroke="#000" strokeWidth={4}/>
      <Txt x={1287} y={675}>1</Txt>
      <Txt x={1286} y={699}>Norm.</Txt>
      <Txt x={1286} y={722}>ΔF/F</Txt>
      <Txt x={1222} y={730}>2s</Txt>

      {/* ---- d ---- */}
      {binCenters.map((b,i) => <rect key={b} x={xd(b)-binW/2} y={yd(binCounts[i])} width={binW} height={yd(0)-yd(binCounts[i])} fill="#c0c0c0" stroke="#555" strokeWidth={1}/>)}
      <path d="M682.5 742V967.5H1294" fill="none" stroke="#000" strokeWidth={4}/>
      {[[50,"50"],[25,"25"],[0,"0"]].map(([v,l]: any) => <Txt key={l} x={673} y={yd(v)+8} anchor="end">{l}</Txt>)}
      <Txt x={647} y={854} size={20.5} bold anchor="middle" rot={-90}>Neurons</Txt>
      {dTickPos.map((p,i) => <Txt key={p} x={xd(p)} y={992} anchor="middle">{dTickText[i]}</Txt>)}
      <Txt x={727} y={1016} bold anchor="middle">Peri-Song</Txt>
      <Txt x={727} y={1039} bold anchor="middle">Exclusive</Txt>
      <Txt x={1235} y={1016} bold anchor="middle">Song</Txt>
      <Txt x={1235} y={1039} bold anchor="middle">Exclusive</Txt>
      <Txt x={978} y={1026} bold anchor="middle">Phrase Index</Txt>
      <g stroke="#000" strokeWidth={3.2} fill="none">
        <line x1={903} x2={790} y1={1021} y2={1021}/>
        <line x1={1055} x2={1170} y1={1021} y2={1021}/>
      </g>
      <path d="M780 1021L794 1014V1028Z M1180 1021L1166 1014V1028Z" fill="#000"/>

      {/* ---- e ---- */}
      <Txt x={505} y={1115} size={20.2} bold>Male Calling</Txt>
      <rect x={636} y={1103} width={57} height={10} fill={C.b}/>
      <Txt x={711} y={1115} size={20.2} bold>Male Feeding</Txt>
      <rect x={853} y={1103} width={57} height={10} fill={C.g}/>
      {eBarsL.map((b,i) => <rect key={"el"+i} x={xL(b[0])} y={1137} width={xL(b[1])-xL(b[0])} height={6} fill={C[b[2]]}/>)}
      {eBarsR.map((b,i) => <rect key={"er"+i} x={xR(b[0])} y={1137} width={xR(b[1])-xR(b[0])} height={6} fill={C[b[2]]}/>)}
      <rect x={122} y={1145} width={1081} height={83.5} fill="#000"/>
      <Spec id="sel" x={122} y={1145} w={1081} h={83} bursts={specELeft} sx={xL} rowH={3.4} wMul={1.05} black={false}/>
      <Spec id="ser" x={122} y={1145} w={1081} h={83} bursts={specERight} sx={xR} rowH={3.4} wMul={1.05} black={false}/>
      <Txt x={1207} y={1155}>10 kHz</Txt>
      <Txt x={1206} y={1233}>0 kHz</Txt>
      <line x1={122} x2={1203} y1={waveEY} y2={waveEY} stroke="#aaa" strokeWidth={1}/>
      {blockLines(waveEBlocksL, xL, "wl")}
      {blockLines(waveEBlocksR, xR, "wr")}
      {waveESpikesL.map((p,i) => <line key={"sl"+i} x1={xL(p[0])} x2={xL(p[0])} y1={waveEY-amp(p[1])*1.1} y2={waveEY+amp(p[1])*1.1} stroke="#000" strokeWidth={1.2}/>)}
      {waveESpikesR.map((p,i) => <line key={"sr"+i} x1={xR(p[0])} x2={xR(p[0])} y1={waveEY-amp(p[1])*1.1} y2={waveEY+amp(p[1])*1.1} stroke="#000" strokeWidth={1.2}/>)}
      <g fill="none" stroke="#2a2a2a" strokeWidth={1.05} strokeLinejoin="round">
        {eTraces.map((t,i) => {
          const b = baseE(i);
          const pts: [number,number][] = [
            ...pairs(t[0]).map(p => [xL(p[0]), yE(b,p[1])] as [number,number]),
            ...pairs(t[1]).map(p => [xR(p[0]), yE(b,p[1])] as [number,number]),
          ];
          if (pts[0][0] > 123) pts.unshift([123, b]);
          return <path key={i} d={eLine(pts) as string}/>;
        })}
      </g>
      {eLinesL.map(v => <line key={"ll"+v} x1={xL(v)} x2={xL(v)} y1={1145} y2={1449} stroke="#c8301f" strokeWidth={1} strokeDasharray="2.5 2"/>)}
      {eLinesR.map(v => <line key={"lr"+v} x1={xR(v)} x2={xR(v)} y1={1145} y2={1449} stroke="#c8301f" strokeWidth={1} strokeDasharray="2.5 2"/>)}
      <path d="M1149 1461H1212V1431" fill="none" stroke="#000" strokeWidth={4}/>
      <Txt x={1217} y={1437}>1</Txt>
      <Txt x={1216} y={1460}>Norm.</Txt>
      <Txt x={1216} y={1484}>ΔF/F</Txt>
      <Txt x={1151} y={1485}>5s</Txt>
    </svg>
  );
}
